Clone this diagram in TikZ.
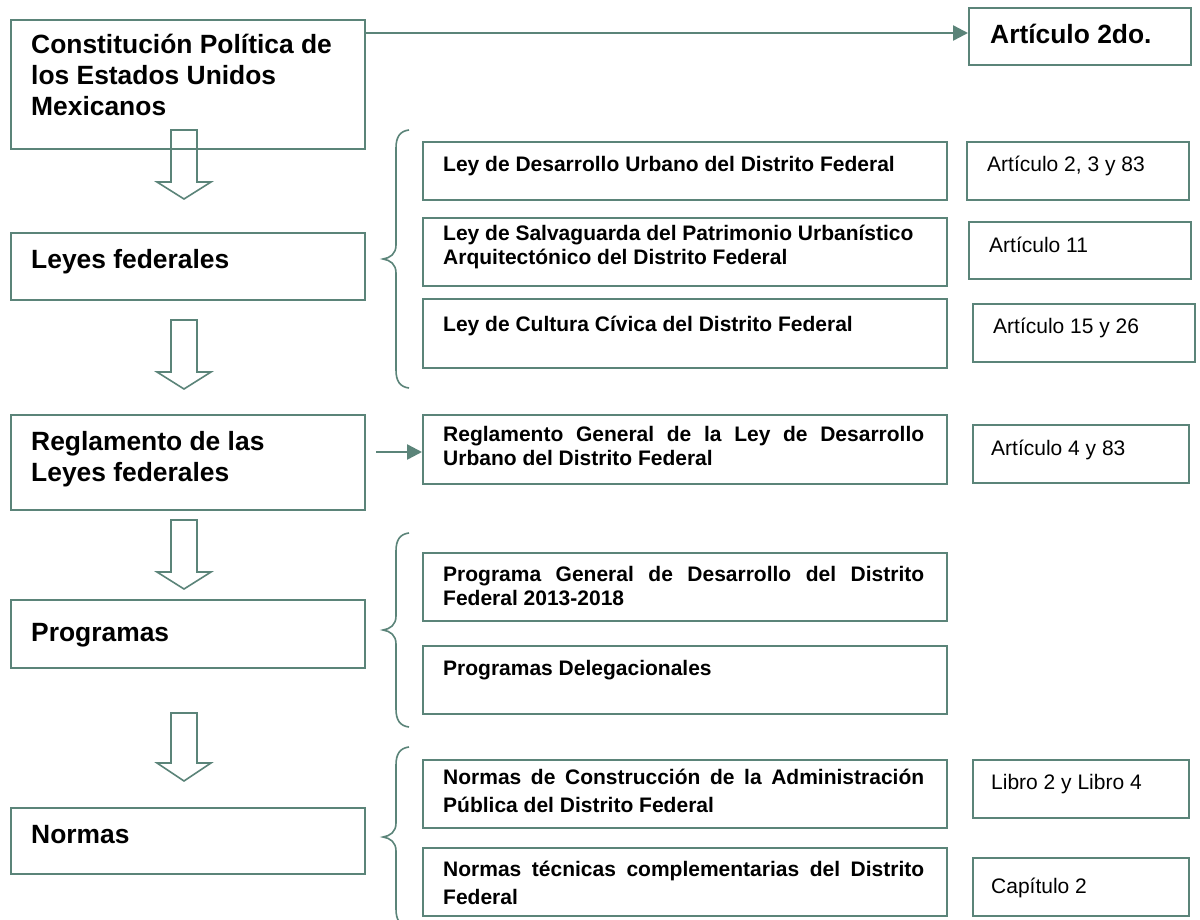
\documentclass[tikz,border=0pt]{standalone}
\usepackage{fontspec}
\setmainfont{Liberation Sans}
\usetikzlibrary{arrows.meta}
\definecolor{tealg}{HTML}{5B8479}
\tikzset{
  box/.style={draw=tealg, line width=2pt, inner sep=0pt, anchor=north west, fill=none},
  big/.style={anchor=base west, inner sep=0pt, font=\fontsize{26.4}{31}\selectfont\bfseries},
  mid/.style={anchor=base west, inner sep=0pt, font=\fontsize{21}{24}\selectfont\bfseries},
  reg/.style={anchor=base west, inner sep=0pt, font=\fontsize{21}{24}\selectfont},
  hollow/.style={draw=tealg, line width=1.6pt, line join=miter},
  bracestyle/.style={draw=tealg, line width=1.6pt},
  conn/.style={draw=tealg, line width=2.4pt, -{Triangle[length=15pt,width=15pt]}},
}
\newcommand{\harrow}[3]{\draw[hollow] (171,#1) -- (171,#2) -- (157,#2) -- (184,#3) -- (211,#2) -- (197,#2) -- (197,#1) -- cycle;}
\newcommand{\brc}[3]{\draw[bracestyle] (409,#1) .. controls (400,#1+1) and (396,#1+7) .. (396,#1+18) -- (396,#2-14) .. controls (396,#2-5) and (390,#2-1) .. (383,#2) .. controls (390,#2+1) and (396,#2+5) .. (396,#2+14) -- (396,#3-18) .. controls (396,#3-7) and (400,#3-1) .. (409,#3);}
\newcommand{\jpar}[3]{\parbox[t]{481pt}{\fontsize{21}{#1}\selectfont\bfseries\hyphenpenalty=10000 #2\linebreak #3}}
\begin{document}
\begin{tikzpicture}[x=1pt,y=-1pt]
\useasboundingbox (0,0) rectangle (1200,919);
\clip (0,0) rectangle (1200,919);
\fill[white] (0,0) rectangle (1200,919);

% left column boxes
\node[box, minimum width=354pt, minimum height=129pt] (cpeum) at (10,19) {};
\node[box, minimum width=354pt, minimum height=67pt] (leyes) at (10,232) {};
\node[box, minimum width=354pt, minimum height=95pt] (regl) at (10,414) {};
\node[box, minimum width=354pt, minimum height=68pt] (progs) at (10,599) {};
\node[box, minimum width=354pt, minimum height=66pt] (normas) at (10,807) {};

\node[big] (tcpeum) at (31,53) {\parbox[t]{330pt}{Constitución Política de\\los Estados Unidos\\Mexicanos}};
\node[big] (tleyes) at (31,268) {Leyes federales};
\node[big] (tregl) at (31,450) {\parbox[t]{330pt}{Reglamento de las\\Leyes federales}};
\node[big] (tprogs) at (31,641) {Programas};
\node[big] (tnormas) at (31,843) {Normas};

% hollow arrows
\harrow{130}{182}{199}
\harrow{320}{372}{389}
\harrow{520}{572}{589}
\harrow{713}{763}{781}

% top right
\node[box, minimum width=222pt, minimum height=57pt] (a2do) at (968,7) {};
\node[big] (ta2do) at (990,43) {Artículo 2do.};
\draw[conn] (cpeum.east |- 0,33) -- (a2do.west |- 0,33);

% leyes group
\brc{130}{259}{388}
\node[box, minimum width=524pt, minimum height=58pt] (ley1) at (422,141) {};
\node[box, minimum width=524pt, minimum height=68pt] (ley2) at (422,217) {};
\node[box, minimum width=524pt, minimum height=69pt] (ley3) at (422,298) {};
\node[mid] (tley1) at (443,171) {Ley de Desarrollo Urbano del Distrito Federal};
\node[mid] (tley2) at (443,240) {\parbox[t]{481pt}{\fontsize{21}{24.5}\selectfont\bfseries Ley de Salvaguarda del Patrimonio Urbanístico\\Arquitectónico del Distrito Federal}};
\node[mid] (tley3) at (443,331) {Ley de Cultura Cívica del Distrito Federal};

\node[box, minimum width=222pt, minimum height=58pt] (art1) at (966,141) {};
\node[box, minimum width=222pt, minimum height=57pt] (art2) at (968,221) {};
\node[box, minimum width=222pt, minimum height=58pt] (art3) at (972,303) {};
\node[reg] (tart1) at (987,171) {Artículo 2, 3 y 83};
\node[reg] (tart2) at (989,252) {Artículo 11};
\node[reg] (tart3) at (993,333) {Artículo 15 y 26};

% reglamento row
\node[box, minimum width=524pt, minimum height=69pt] (regR) at (422,414) {};
\node[mid] (tregR) at (443,441) {\jpar{24}{Reglamento General de la Ley de Desarrollo}{Urbano del Distrito Federal}};
\coordinate (rs) at (376,452);
\draw[conn] (rs) -- (regR.west |- rs);
\node[box, minimum width=216pt, minimum height=58pt] (art4) at (972,424) {};
\node[reg] (tart4) at (991,455) {Artículo 4 y 83};

% programas group
\brc{533}{630}{727}
\node[box, minimum width=524pt, minimum height=68pt] (p1) at (422,552) {};
\node[box, minimum width=524pt, minimum height=68pt] (p2) at (422,645) {};
\node[mid] (tp1) at (443,581) {\jpar{24}{Programa General de Desarrollo del Distrito}{Federal 2013-2018}};
\node[mid] (tp2) at (443,675) {Programas Delegacionales};

% normas group
\brc{747}{837}{927}
\node[box, minimum width=524pt, minimum height=68pt] (n1) at (422,759) {};
\node[box, minimum width=524pt, minimum height=68pt] (n2) at (422,847) {};
\node[mid] (tn1) at (443,784) {\jpar{28}{Normas de Construcción de la Administración}{Pública del Distrito Federal}};
\node[mid] (tn2) at (443,876) {\jpar{28}{Normas técnicas complementarias del Distrito}{Federal}};
\node[box, minimum width=216pt, minimum height=58pt] (lib) at (972,759) {};
\node[box, minimum width=216pt, minimum height=58pt] (cap) at (972,857) {};
\node[reg] (tlib) at (991,789) {Libro 2 y Libro 4};
\node[reg] (tcap) at (991,893) {Capítulo 2};
\end{tikzpicture}
\end{document}
